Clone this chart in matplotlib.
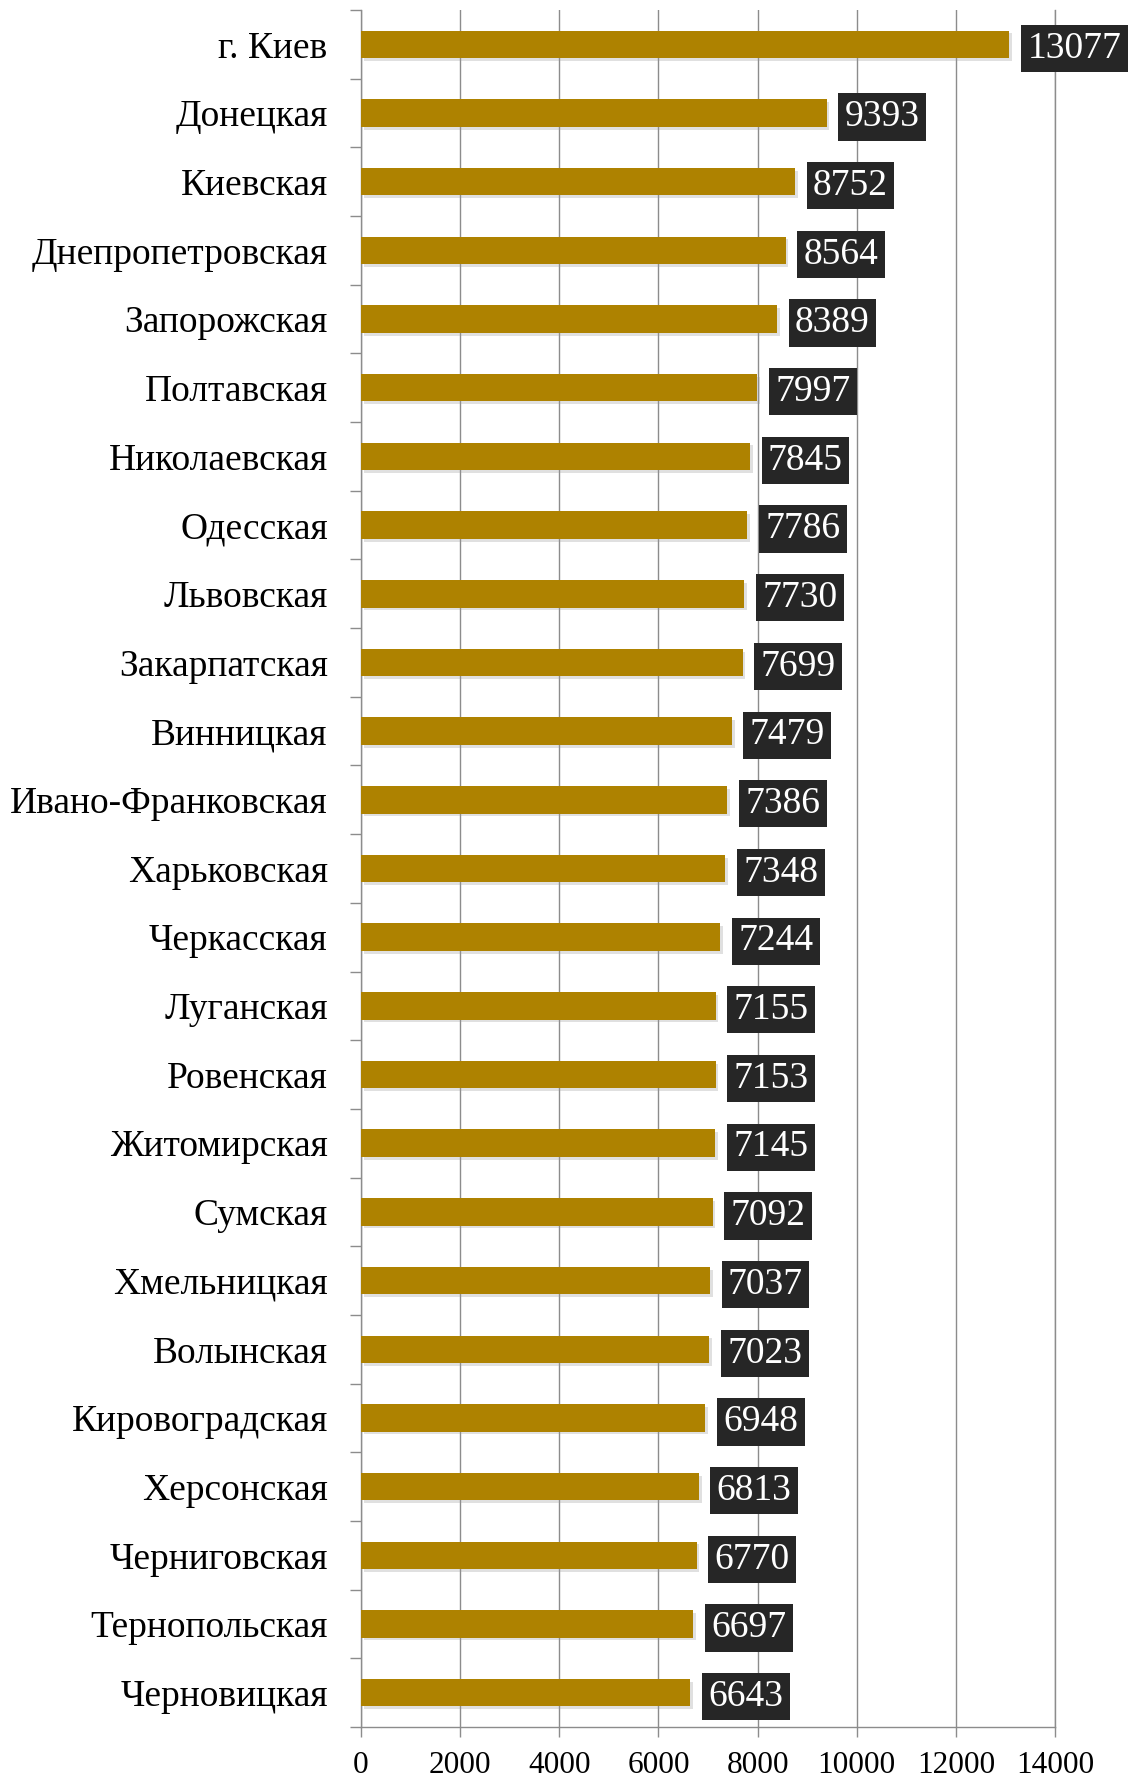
import numpy as np
import matplotlib
matplotlib.use('Agg')
from matplotlib import pyplot as plt
from matplotlib import patheffects as pe
from matplotlib.ticker import MultipleLocator

# regions, top to bottom
regions = ['г. Киев', 'Донецкая', 'Киевская', 'Днепропетровская', 'Запорожская',
           'Полтавская', 'Николаевская', 'Одесская', 'Львовская', 'Закарпатская',
           'Винницкая', 'Ивано-Франковская', 'Харьковская', 'Черкасская', 'Луганская',
           'Ровенская', 'Житомирская', 'Сумская', 'Хмельницкая', 'Волынская',
           'Кировоградская', 'Херсонская', 'Черниговская', 'Тернопольская', 'Черновицкая']
values = [13077, 9393, 8752, 8564, 8389, 7997, 7845, 7786, 7730, 7699,
          7479, 7386, 7348, 7244, 7155, 7153, 7145, 7092, 7037, 7023,
          6948, 6813, 6770, 6697, 6643]
x_ticks = [0, 2000, 4000, 6000, 8000, 10000, 12000, 14000]

bar_color = '#AE8200'
box_color = '#262626'
grid_color = '#8C8C8C'

plt.rcParams['font.family'] = ['Liberation Serif', 'DejaVu Serif']

fig = plt.figure(figsize=(11.29, 17.80), dpi=100)
ax = fig.add_axes([361/1129, 1 - 1727/1780, (1055 - 361)/1129, (1727 - 10)/1780])

n = len(regions)
y = np.arange(n)

bars = ax.barh(y, values, height=0.40, color=bar_color, zorder=3)
for b in bars:
    b.set_path_effects([pe.SimplePatchShadow(offset=(2, -2), shadow_rgbFace='#999999', alpha=0.3),
                        pe.Normal()])

for yi, v in zip(y, values):
    ax.annotate(str(v), xy=(v, yi), xytext=(13, 0), textcoords='offset points',
                ha='left', va='center_baseline', fontsize=27, color='white', zorder=5,
                annotation_clip=False,
                bbox=dict(boxstyle='square,pad=0.17', fc=box_color, ec='none'))

ax.set_xlim(0, 14000)
ax.set_ylim(n - 0.5, -0.5)
ax.set_xticks(x_ticks)
ax.set_xticklabels([str(t) for t in x_ticks], fontsize=22.5)
ax.set_yticks(y)
ax.set_yticklabels(regions, fontsize=27)
ax.set_yticks(np.arange(n + 1) - 0.5, minor=True)

ax.tick_params(axis='y', which='major', length=0, pad=24)
ax.tick_params(axis='y', which='minor', length=8, width=1.0, color=grid_color, direction='out')
ax.tick_params(axis='x', which='major', length=7, width=1.0, color=grid_color, pad=10)

ax.xaxis.grid(True, color=grid_color, linewidth=1.0, zorder=0)
ax.axvline(14000, color=grid_color, linewidth=1.0, zorder=0, clip_on=False)
ax.set_axisbelow(True)
for s in ['top', 'right']:
    ax.spines[s].set_visible(False)
for s in ['left', 'bottom']:
    ax.spines[s].set_color(grid_color)
    ax.spines[s].set_linewidth(1.0)

fig.savefig('out.png', dpi=100)
